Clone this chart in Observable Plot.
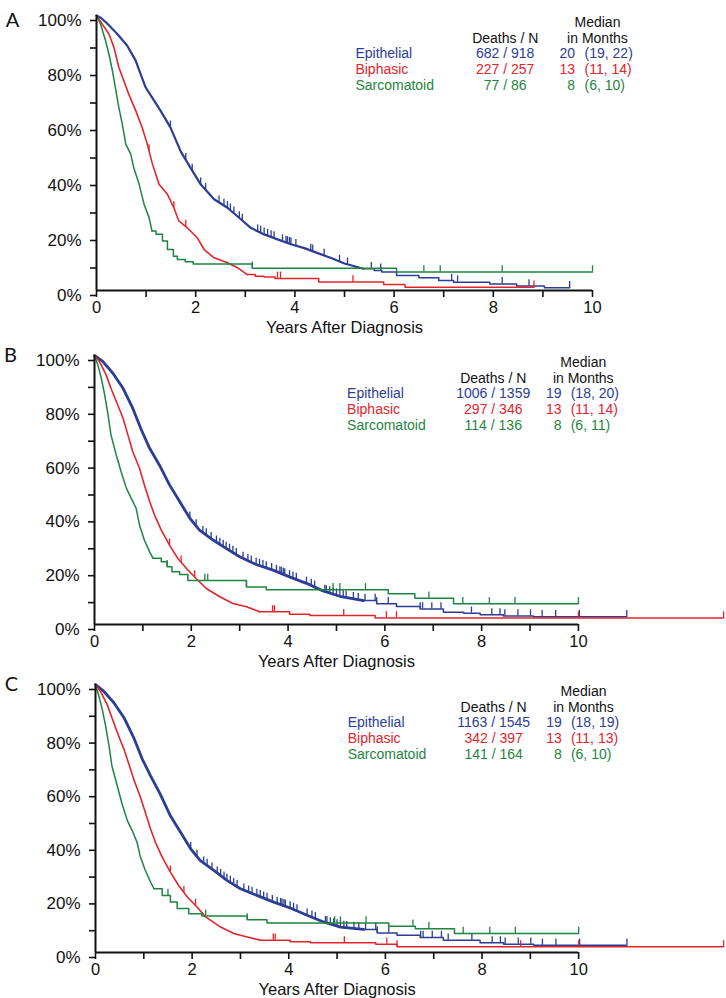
<!DOCTYPE html>
<html><head><meta charset="utf-8">
<script src="https://cdn.jsdelivr.net/npm/d3@7"></script>
<script src="https://cdn.jsdelivr.net/npm/@observablehq/plot@0.6"></script>
<style>body{margin:0;background:#fff;} #chart svg{display:block;}</style>
</head><body><div id="chart"></div>
<script>
const groups = ["Epithelial", "Biphasic", "Sarcomatoid"];
const colors = ["#2b3d95", "#e3242b", "#1f8440"];
const xTicks = [0, 1, 2, 3, 4, 5, 6, 7, 8, 9, 10];
const xTickLabels = [0, 2, 4, 6, 8, 10];
const yTicks = [0, 10, 20, 30, 40, 50, 60, 70, 80, 90, 100];
const yTickLabels = [0, 20, 40, 60, 80, 100];
const xTitle = "Years After Diagnosis";
const headDeaths = "Deaths / N";
const headMedian = ["Median", "in Months"];
const panelLetters = ["A", "B", "C"];

// ---- Panel A (survival %, years) ----
const A_epi_early = [[0,100],[0.1,99],[0.22,97],[0.42,93.3],[0.62,89],[0.79,83.6],[0.89,78.7],[0.99,73.9],[1.12,70.2],[1.29,65.4],[1.49,59.3],[1.7,50.5],[1.9,44.5],[2.1,38.6],[2.37,33.2],[2.64,30.1],[2.91,25.9],[3.11,22.8],[3.38,20.4],[3.65,18.6],[3.92,16.8],[4.19,15.4],[4.46,13.6],[4.73,11.8],[5.0,9.8],[5.38,7.9]];
const A_epi_tail = [[5.38,7.9],[5.6,7.3],[5.75,6.7],[6.05,5.5],[6.5,4.6],[6.9,3.6],[7.2,3.0],[7.93,2.4],[8.47,1.6],[9.03,1.0],[9.54,1.0]];
const A_epi_censor = [1.49,1.8,1.93,2.1,2.2,2.47,2.57,2.64,2.7,2.77,2.88,2.94,3.25,3.31,3.38,3.45,3.52,3.58,3.75,3.82,3.85,3.89,3.92,4.02,4.32,4.36,4.59,4.9,5.06,5.54,5.73,7.16,7.28,8.18,8.72,9.54];
const A_bip_early = [[0,100],[0.11,97],[0.25,93.3],[0.35,88.5],[0.45,81.2],[0.55,76.3],[0.65,71.4],[0.79,65.4],[0.92,59.3],[1.02,53.5],[1.12,46.5],[1.26,38.6],[1.43,35],[1.56,30.1],[1.66,25.3],[1.83,22.8],[2.03,19.2],[2.17,14.9],[2.37,11.9],[2.64,10.1],[2.84,8.3],[3.04,5.8]];
const A_bip_tail = [[3.04,5.8],[3.2,5.2],[3.38,4.9],[3.6,4.4],[4.48,3.1],[5.79,2.2],[6.22,1.2],[8.82,1.2]];
const A_bip_censor = [1.06,1.56,1.8,3.65,3.71,5.17,8.82];
const A_sar_early = [[0,100],[0.08,97],[0.18,91],[0.25,86],[0.32,80],[0.38,73.9],[0.45,66.6],[0.52,60.5],[0.59,53.2],[0.69,49.6],[0.75,44.7],[0.86,38.6],[0.96,31.3],[1.06,26.5],[1.12,21.6]];
const A_sar_tail = [[1.12,21.6],[1.2,20.5],[1.33,18],[1.43,14.9],[1.55,12.5],[1.63,11.3],[1.79,10.5],[1.95,9.6],[3.14,8.1],[6.05,6.7],[10,6.7]];
const A_sar_censor = [3.14,6.6,6.93,8.18,10.0];
const A_deathsN = ["682 / 918", "227 / 257", "77 / 86"];
const A_median = ["20", "13", "8"];
const A_ci = ["(19, 22)", "(11, 14)", "(6, 10)"];

// ---- Panel B ----
const B_epi_early = [[0,100],[0.17,97.8],[0.38,93.4],[0.59,87.8],[0.79,80.4],[0.97,72.3],[1.14,65.5],[1.34,59.3],[1.55,51.9],[1.76,45.7],[1.97,39.5],[2.17,35.1],[2.45,31.4],[2.72,28.3],[3.0,25.2],[3.34,22.3],[3.69,20.2],[4.03,17.7],[4.38,15.3],[4.72,12.5],[5.07,10.5],[5.56,8.9]];
const B_epi_tail = [[5.56,8.9],[5.83,7.7],[6.24,6.7],[6.73,5.8],[7.21,4.6],[7.63,4.2],[7.97,3.6],[8.45,3.2],[9.07,2.9],[11.0,2.9]];
const B_epi_censor = [1.97,2.1,2.24,2.31,2.41,2.52,2.59,2.66,2.72,2.79,2.86,2.93,3.07,3.17,3.24,3.34,3.41,3.48,3.55,3.66,3.76,3.83,3.86,3.9,3.93,4.03,4.1,4.17,4.38,4.48,4.55,4.76,4.79,4.86,4.93,5.0,5.07,5.14,5.2,5.35,5.45,5.59,5.8,5.83,6.07,6.73,6.78,6.97,7.16,7.79,8.21,8.38,8.48,8.75,9.01,9.25,9.53,10.02,11.0];
const B_bip_early = [[0,100],[0.1,97.8],[0.24,92.8],[0.34,87.8],[0.48,81.6],[0.59,76.7],[0.69,70.5],[0.79,64.3],[0.93,58.1],[1.03,51.9],[1.14,45.7],[1.24,40.7],[1.38,35.1],[1.55,29.5],[1.72,24.6],[1.9,20.8],[2.1,17.1],[2.31,13.4],[2.59,10.3],[2.86,7.8],[3.14,6.6],[3.41,4.7]];
const B_bip_tail = [[3.41,4.7],[4.03,3.8],[4.45,3.3],[5.8,2.4],[13.0,2.4]];
const B_bip_censor = [1.55,1.79,2.07,3.68,3.72,5.15,6.03,6.24,10.0,13.0];
const B_sar_early = [[0,100],[0.07,96.5],[0.14,91.6],[0.21,85.4],[0.28,77.9],[0.34,70.5],[0.45,63],[0.55,56.8],[0.66,50.6],[0.76,46.9],[0.86,43.2],[0.93,37],[1.03,31.4],[1.14,27],[1.21,24.6]];
const B_sar_tail = [[1.21,24.6],[1.38,23.3],[1.5,21.5],[1.6,19.6],[1.76,18.6],[1.93,16.4],[3.14,13.9],[3.55,12.9],[6.07,11.4],[6.62,9.8],[7.42,7.7],[10.0,7.7]];
const B_sar_censor = [1.5,2.28,2.34,3.14,4.93,5.07,5.6,6.91,7.61,8.16,8.69,10.0];
const B_deathsN = ["1006 / 1359", "297 / 346", "114 / 136"];
const B_median = ["19", "13", "8"];
const B_ci = ["(18, 20)", "(11, 14)", "(6, 11)"];

// ---- Panel C ----
const C_epi_early = [[0,100],[0.17,97.5],[0.38,93.2],[0.59,87.6],[0.79,80.2],[0.97,72.1],[1.14,65.9],[1.34,59.1],[1.55,51],[1.76,44.9],[1.97,38.7],[2.17,34.3],[2.45,30.6],[2.72,26.9],[3.0,23.8],[3.34,21.3],[3.69,18.8],[4.03,16.6],[4.38,13.9],[4.72,11.4],[5.07,9.5],[5.55,8.6]];
const C_epi_tail = [[5.55,8.6],[5.83,7.3],[6.24,6.4],[6.72,5.6],[7.2,4.6],[7.96,3.6],[8.45,3.1],[9.07,2.7],[11.0,2.7]];
const C_epi_censor = [1.97,2.1,2.24,2.31,2.41,2.52,2.59,2.66,2.72,2.79,2.86,2.93,3.07,3.17,3.24,3.34,3.41,3.48,3.55,3.66,3.76,3.83,3.86,3.9,3.93,4.03,4.1,4.17,4.38,4.48,4.55,4.76,4.79,4.86,4.93,5.0,5.07,5.14,5.2,5.35,5.45,5.59,5.8,5.83,6.07,6.73,6.78,6.97,7.16,7.3,7.79,8.21,8.38,8.48,8.75,9.01,9.25,9.53,10.02,11.0];
const C_bip_early = [[0,100],[0.1,97.5],[0.24,92.6],[0.34,87.6],[0.48,80.8],[0.59,75.8],[0.69,70.3],[0.79,64.7],[0.93,57.9],[1.03,52.3],[1.14,46.1],[1.24,41.1],[1.38,35.6],[1.55,30],[1.72,25],[1.9,20.7],[2.1,17],[2.28,13.3],[2.59,9.5],[2.86,7.1],[3.14,5.8],[3.41,4.6]];
const C_bip_tail = [[3.41,4.6],[4.03,4.0],[4.45,3.6],[5.8,3.1],[6.24,2.1],[13.0,2.1]];
const C_bip_censor = [1.55,1.83,2.07,3.68,3.72,5.15,6.03,6.24,8.8,10.0,13.0];
const C_sar_early = [[0,100],[0.07,95.7],[0.14,90.7],[0.21,84.5],[0.28,77.1],[0.34,69.6],[0.45,62.2],[0.55,55.4],[0.66,49.2],[0.76,45.5],[0.86,41.1],[0.93,35.6],[1.03,30.7],[1.14,26.3],[1.21,23.8]];
const C_sar_tail = [[1.21,23.8],[1.38,21.3],[1.55,18.8],[1.69,16.4],[1.93,14.5],[2.2,13.6],[3.14,12.2],[3.55,11.0],[6.07,9.8],[6.62,8.9],[7.43,7.1],[10.0,7.1]];
const C_sar_censor = [1.5,2.28,3.14,4.95,5.07,5.6,6.57,6.9,7.61,8.16,8.69,10.0];
const C_deathsN = ["1163 / 1545", "342 / 397", "141 / 164"];
const C_median = ["19", "13", "8"];
const C_ci = ["(18, 19)", "(11, 13)", "(6, 10)"];

const FONT = "'Liberation Sans', Arial, Helvetica, sans-serif";

function survivalAt(early, tail, t) {
  if (t <= tail[0][0]) {
    for (let i = 1; i < early.length; i++) {
      if (t <= early[i][0]) {
        const [t0, s0] = early[i - 1], [t1, s1] = early[i];
        return s0 + (s1 - s0) * (t - t0) / (t1 - t0);
      }
    }
    return early[early.length - 1][1];
  }
  let s = tail[0][1];
  for (const [tt, ss] of tail) if (tt <= t) s = ss;
  return s;
}

function panel(cfg) {
  const marks = [];
  cfg.series.forEach((s, i) => {
    const col = colors[i];
    marks.push(Plot.line(s.early, {x: d => d[0], y: d => d[1], stroke: col, strokeWidth: s.sw, curve: "linear", strokeLinejoin: "round"}));
    marks.push(Plot.line(s.tail, {x: d => d[0], y: d => d[1], stroke: col, strokeWidth: 1.5, curve: "step-after"}));
    marks.push(Plot.ruleX(s.censor, {x: d => d, y1: d => survivalAt(s.early, s.tail, d), y2: d => survivalAt(s.early, s.tail, d) + cfg.tickLen, stroke: col, strokeWidth: 1.3}));
  });
  // axes
  marks.push(Plot.axisY({ticks: yTicks, tickSize: 6, tickPadding: 9, strokeWidth: 1.6, dy: 5, fontSize: 17,
    tickFormat: d => yTickLabels.includes(d) ? d + "%" : "", label: null}));
  marks.push(Plot.axisX({ticks: xTicks, tickSize: 7, tickPadding: 4, strokeWidth: 1.6, fontSize: 16.5,
    tickFormat: d => xTickLabels.includes(d) ? String(d) : "", label: null}));
  marks.push(Plot.ruleX([0], {y1: 0, y2: 100, strokeWidth: 2}));
  marks.push(Plot.ruleY([0], {x1: 0, x2: 10, strokeWidth: 2}));
  marks.push(Plot.text([xTitle], {x: d3.mean([xTicks[0], xTicks[xTicks.length - 1]]), y: 0, dy: 37, fontSize: 16.5}));
  marks.push(Plot.text([cfg.letter], {frameAnchor: "top-left", dx: -84, dy: cfg.letterDy, textAnchor: "middle", lineAnchor: "middle", fontSize: 20, fontFamily: "Lato, 'Open Sans', sans-serif"}));
  // legend
  const fs = 14;
  const step = cfg.rowStep;
  const headY = [97.4, 97.4 - step];
  const rowY = [97.4 - 2 * step, 97.4 - 3 * step, 97.4 - 4 * step];
  marks.push(Plot.text([headDeaths], {x: 8.24, y: headY[1], fontSize: fs, textAnchor: "middle"}));
  marks.push(Plot.text(headMedian, {x: 10.1, y: (d, i) => headY[i], fontSize: fs, textAnchor: "middle"}));
  groups.forEach((g, i) => {
    marks.push(Plot.text([g], {x: 5.22, y: rowY[i], fill: colors[i], fontSize: fs, textAnchor: "start"}));
    marks.push(Plot.text([cfg.deathsN[i]], {x: 8.24, y: rowY[i], fill: colors[i], fontSize: fs, textAnchor: "middle"}));
    marks.push(Plot.text([cfg.median[i]], {x: 9.65, y: rowY[i], fill: colors[i], fontSize: fs, textAnchor: "end"}));
    marks.push(Plot.text([cfg.ci[i]], {x: 9.84, y: rowY[i], fill: colors[i], fontSize: fs, textAnchor: "start"}));
  });
  return Plot.plot({
    width: 726, height: cfg.height,
    marginLeft: cfg.marginLeft, marginRight: cfg.marginRight, marginTop: 15, marginBottom: cfg.marginBottom,
    x: {domain: cfg.xDomain},
    y: {domain: [0, 100]},
    style: {fontFamily: FONT, fontSize: "17px", color: "#111", background: "white", overflow: "visible"},
    marks
  });
}

const chart = document.getElementById("chart");
chart.append(panel({
  letter: panelLetters[0], letterDy: 5, height: 340, marginBottom: 50, marginLeft: 96, marginRight: 134, xDomain: [0, 10], tickLen: 2.3, rowStep: 5.7,
  deathsN: A_deathsN, median: A_median, ci: A_ci,
  series: [
    {early: A_epi_early, tail: A_epi_tail, censor: A_epi_censor, sw: 2.2},
    {early: A_bip_early, tail: A_bip_tail, censor: A_bip_censor, sw: 1.6},
    {early: A_sar_early, tail: A_sar_tail, censor: A_sar_censor, sw: 1.5}
  ]
}));
chart.append(panel({
  letter: panelLetters[1], letterDy: 0, height: 329, marginBottom: 45, marginLeft: 94, marginRight: 0, xDomain: [0, 13.06], tickLen: 2.3, rowStep: 5.85,
  deathsN: B_deathsN, median: B_median, ci: B_ci,
  series: [
    {early: B_epi_early, tail: B_epi_tail, censor: B_epi_censor, sw: 2.8},
    {early: B_bip_early, tail: B_bip_tail, censor: B_bip_censor, sw: 1.6},
    {early: B_sar_early, tail: B_sar_tail, censor: B_sar_censor, sw: 1.5}
  ]
}));
chart.append(panel({
  letter: panelLetters[2], letterDy: 0, height: 329, marginBottom: 46, marginLeft: 95, marginRight: 0, xDomain: [0, 13.06], tickLen: 2.3, rowStep: 5.85,
  deathsN: C_deathsN, median: C_median, ci: C_ci,
  series: [
    {early: C_epi_early, tail: C_epi_tail, censor: C_epi_censor, sw: 2.8},
    {early: C_bip_early, tail: C_bip_tail, censor: C_bip_censor, sw: 1.6},
    {early: C_sar_early, tail: C_sar_tail, censor: C_sar_censor, sw: 1.5}
  ]
}));
</script></body></html>
